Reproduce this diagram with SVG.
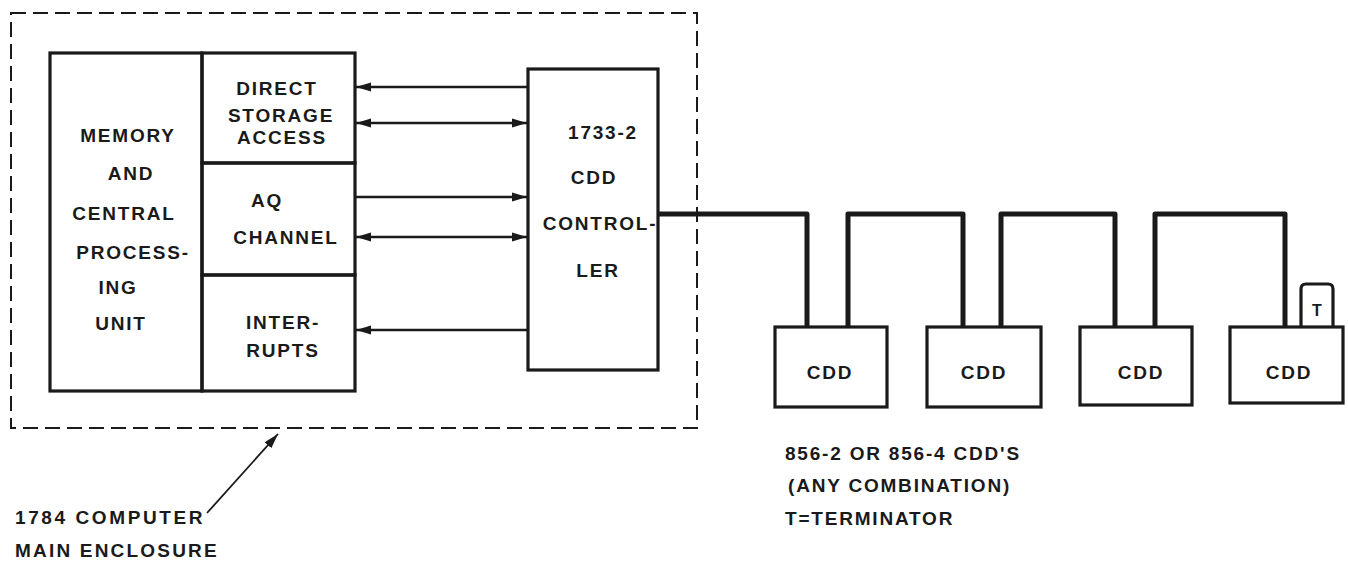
<svg xmlns="http://www.w3.org/2000/svg" width="1348" height="564" viewBox="0 0 1348 564">
<defs>
<style>
.bx{fill:none;stroke:#1a1a1a;stroke-width:3.2}
.ln{fill:none;stroke:#1a1a1a;stroke-width:2.6}
.wire{fill:none;stroke:#1a1a1a;stroke-width:5;stroke-linejoin:round}
.dash{fill:none;stroke:#1a1a1a;stroke-width:2;stroke-dasharray:15 7}
text{font-family:"Liberation Sans",Arial,sans-serif;font-weight:bold;font-size:19px;fill:#1a1a1a;letter-spacing:1.8px}
.m{text-anchor:middle}
</style>
<marker id="ah" markerWidth="16" markerHeight="12" refX="15" refY="6" orient="auto-start-reverse" markerUnits="userSpaceOnUse">
<path d="M0,1.5 L15,6 L0,10.5 Z" fill="#1a1a1a"/>
</marker>
</defs>
<rect width="1348" height="564" fill="#ffffff"/>

<g id="enclosure">
<rect class="dash" x="11" y="13" width="686" height="415"/>
</g>

<g id="cpu">
<rect class="bx" x="50" y="53" width="152" height="338"/>
<text class="m" x="128" y="142">MEMORY</text>
<text class="m" x="131" y="180">AND</text>
<text class="m" x="124" y="220">CENTRAL</text>
<text class="m" x="133" y="259">PROCESS-</text>
<text class="m" x="118" y="294">ING</text>
<text class="m" x="121" y="330">UNIT</text>
</g>

<g id="dsa">
<rect class="bx" x="202" y="53" width="153" height="110"/>
<text class="m" x="277" y="95">DIRECT</text>
<text class="m" x="281" y="122">STORAGE</text>
<text class="m" x="282" y="144">ACCESS</text>
</g>

<g id="aq">
<rect class="bx" x="202" y="163" width="153" height="112"/>
<text class="m" x="267" y="207">AQ</text>
<text class="m" x="286" y="244">CHANNEL</text>
</g>

<g id="interrupts">
<rect class="bx" x="202" y="275" width="153" height="116"/>
<text class="m" x="283" y="329">INTER-</text>
<text class="m" x="283" y="357">RUPTS</text>
</g>

<g id="controller">
<rect class="bx" x="528" y="69" width="130" height="301"/>
<text class="m" x="603" y="139">1733-2</text>
<text class="m" x="594" y="184">CDD</text>
<text class="m" x="600" y="230">CONTROL-</text>
<text class="m" x="598" y="277">LER</text>
</g>

<g id="cdd1">
<rect class="bx" x="775" y="327" width="112" height="80"/>
<text class="m" x="830" y="379">CDD</text>
</g>
<g id="cdd2">
<rect class="bx" x="927" y="327" width="114" height="80"/>
<text class="m" x="984" y="379">CDD</text>
</g>
<g id="cdd3">
<rect class="bx" x="1080" y="327" width="112" height="78"/>
<text class="m" x="1141" y="379">CDD</text>
</g>
<g id="cdd4">
<rect class="bx" x="1230" y="327" width="113" height="76"/>
<text class="m" x="1289" y="379">CDD</text>
</g>
<g id="terminator">
<path class="bx" d="M1301 327 V289 Q1301 284 1306 284 H1328 Q1333 284 1333 289 V327"/>
<text class="m" x="1317" y="316" style="font-size:16px;letter-spacing:0">T</text>
</g>

<g id="connectors">
<line class="ln" x1="528" y1="87" x2="356" y2="87" marker-end="url(#ah)"/>
<line class="ln" x1="356" y1="123" x2="527" y2="123" marker-start="url(#ah)" marker-end="url(#ah)"/>
<line class="ln" x1="356" y1="197" x2="527" y2="197" marker-end="url(#ah)"/>
<line class="ln" x1="356" y1="237" x2="527" y2="237" marker-start="url(#ah)" marker-end="url(#ah)"/>
<line class="ln" x1="528" y1="330" x2="356" y2="330" marker-end="url(#ah)"/>
<path class="wire" d="M658 214 H807 V327 M848 327 V214 H963 V327 M1001 327 V214 H1115 V327 M1155 327 V214 H1285 V327"/>
<line x1="207" y1="513" x2="278" y2="434" stroke="#1a1a1a" stroke-width="1.8" marker-end="url(#ah)"/>
</g>

<g id="labels">
<text x="15" y="524" style="letter-spacing:2.6px">1784 COMPUTER</text>
<text x="15" y="557" style="letter-spacing:2.2px">MAIN ENCLOSURE</text>
<text x="785" y="460">856-2 OR 856-4 CDD'S</text>
<text x="788" y="492">(ANY COMBINATION)</text>
<text x="785" y="525">T=TERMINATOR</text>
</g>
</svg>
